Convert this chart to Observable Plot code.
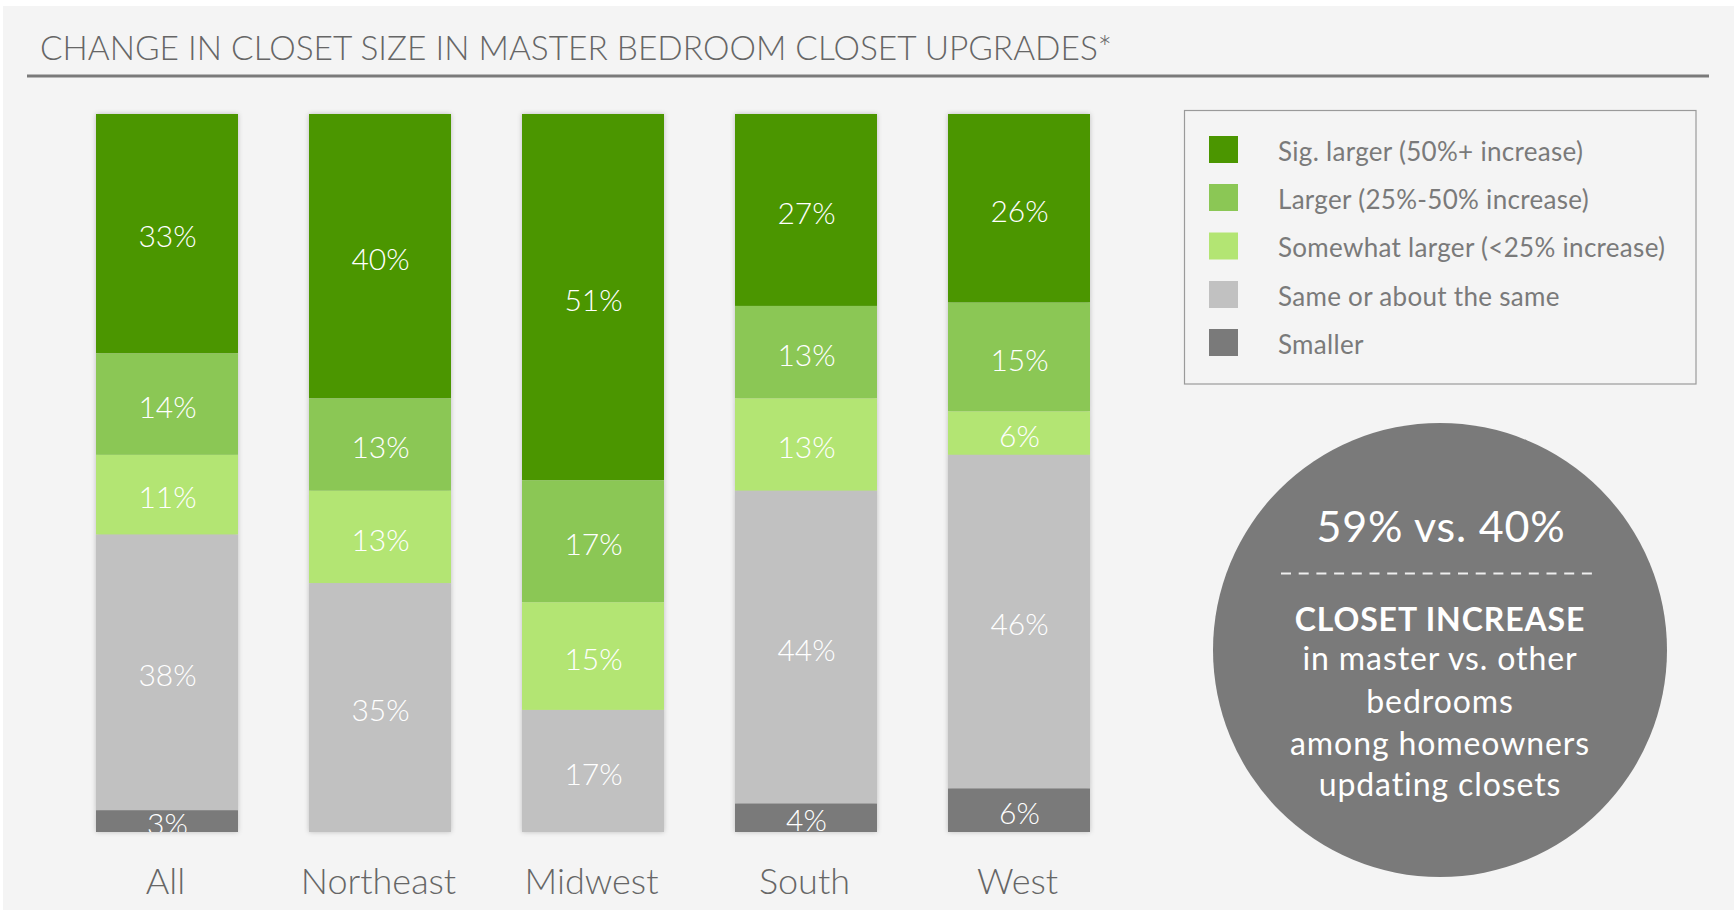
<!DOCTYPE html>
<html>
<head>
<meta charset="utf-8">
<script src="https://cdn.jsdelivr.net/npm/d3@7"></script>
<script src="https://cdn.jsdelivr.net/npm/@observablehq/plot@0.6"></script>
<style>
  html, body { margin: 0; padding: 0; background: #ffffff; }
  #wrap { position: relative; width: 1734px; height: 914px; overflow: hidden; font-family: Lato, "Open Sans", sans-serif; }
  #bg { position: absolute; left: 0; top: 0; }
  #chart { position: absolute; left: 0; top: 0; width: 1734px; height: 914px; }
  #chart svg { display: block; max-width: none; }
</style>
</head>
<body>
<div id="wrap">
  <svg id="bg" width="1734" height="914"></svg>
  <div id="chart"></div>
</div>
<script>
// ---- data ----
const regions = ["All", "Northeast", "Midwest", "South", "West"];
const categories = [
  "Sig. larger (50%+ increase)",
  "Larger (25%-50% increase)",
  "Somewhat larger (<25% increase)",
  "Same or about the same",
  "Smaller"
];
const colors = ["#4b9600", "#8bc755", "#b3e573", "#c1c1c1", "#7a7a7a"];
const sigLarger = [33, 40, 51, 27, 26];
const larger    = [14, 13, 17, 13, 15];
const somewhat  = [11, 13, 15, 13, 6];
const same      = [38, 35, 17, 44, 46];
const smaller   = [3, 0, 0, 4, 6];
const title = "CHANGE IN CLOSET SIZE IN MASTER BEDROOM CLOSET UPGRADES*";
const calloutHead = "59% vs. 40%";
const calloutBold = "CLOSET INCREASE";
const calloutLines = ["in master vs. other", "bedrooms", "among homeowners", "updating closets"];

const series = [sigLarger, larger, somewhat, same, smaller];
const rows = [];
regions.forEach((r, i) => {
  categories.forEach((c, j) => {
    const v = series[j][i];
    if (v > 0) rows.push({region: r, cat: c, value: v});
  });
});
const stackOrder = categories.slice().reverse();

// ---- background decorations ----
const bg = d3.select("#bg");
bg.append("rect").attr("x", 3).attr("y", 6).attr("width", 1731).attr("height", 904).attr("fill", "#f4f4f4");
bg.append("text").attr("x", 40).attr("y", 60)
  .attr("font-family", "Lato").attr("font-weight", 300).attr("font-size", 34)
  .attr("fill", "#666").attr("textLength", 1072).attr("lengthAdjust", "spacingAndGlyphs")
  .text(title);
bg.append("line").attr("x1", 27).attr("x2", 1709).attr("y1", 76).attr("y2", 76)
  .attr("stroke", "#7a7a7a").attr("stroke-width", 3);

// legend
bg.append("rect").attr("x", 1184.5).attr("y", 110.5).attr("width", 511.5).attr("height", 273.5)
  .attr("fill", "none").attr("stroke", "#9a9a9a").attr("stroke-width", 1.2);
const legendY = [149.5, 197.5, 246, 294.5, 342.5];
categories.forEach((c, j) => {
  bg.append("rect").attr("x", 1209).attr("y", legendY[j] - 13.5).attr("width", 29).attr("height", 27)
    .attr("fill", colors[j]);
  bg.append("text").attr("x", 1278).attr("y", legendY[j] + 11)
    .attr("font-family", "Lato").attr("font-size", 26).attr("letter-spacing", 0.3).attr("fill", "#7a7a7a")
    .text(c);
});

// callout circle
bg.append("circle").attr("cx", 1440).attr("cy", 650).attr("r", 227).attr("fill", "#7a7a7a");
bg.append("text").attr("x", 1441).attr("y", 541.5).attr("text-anchor", "middle")
  .attr("font-family", "Lato").attr("font-size", 43).attr("letter-spacing", 0.8).attr("fill", "#fff").text(calloutHead);
bg.append("line").attr("x1", 1281).attr("x2", 1599).attr("y1", 573.5).attr("y2", 573.5)
  .attr("stroke", "#eeeeee").attr("stroke-width", 2).attr("stroke-dasharray", "10,7.7");
bg.append("text").attr("x", 1440).attr("y", 630.5).attr("text-anchor", "middle")
  .attr("font-family", "Lato").attr("font-weight", 700).attr("font-size", 32).attr("letter-spacing", 0.9).attr("fill", "#fff").text(calloutBold);
const lineY = [670, 712.5, 755, 796];
calloutLines.forEach((t, i) => {
  bg.append("text").attr("x", 1440).attr("y", lineY[i]).attr("text-anchor", "middle")
    .attr("font-family", "Lato").attr("font-weight", 400).attr("font-size", 32).attr("letter-spacing", 0.9).attr("fill", "#fff").text(t);
});

// ---- chart ----
const chart = Plot.plot({
  width: 1734,
  height: 914,
  marginTop: 114,
  marginBottom: 82,
  marginLeft: 24.6,
  marginRight: 1734 - 1161.2,
  style: {background: "transparent", fontFamily: "Lato", maxWidth: "none"},
  x: {domain: regions, padding: 0.3337, label: null},
  y: {axis: null, domain: [0, 1]},
  color: {domain: categories, range: colors},
  marks: [
    Plot.barY(rows, Plot.stackY({x: "region", y: "value", fill: "cat", order: stackOrder, offset: "normalize"})),
    Plot.text(rows, Plot.stackY({
      x: "region", y: "value", z: "cat", order: stackOrder, offset: "normalize",
      text: d => d.value + "%", fill: "white", fontSize: 30, fontWeight: 300, dy: 3.5, clip: true
    })),
    Plot.axisX({tickSize: 0, tickPadding: 36, fontSize: 36, fill: "#666", fontWeight: 300, dx: -2})
  ]
});
document.getElementById("chart").appendChild(chart);
const barG = chart.querySelector('g[aria-label="bar"]');
if (barG) barG.style.filter = "drop-shadow(0px 0px 2.5px rgba(0,0,0,0.22))";
</script>
</body>
</html>
